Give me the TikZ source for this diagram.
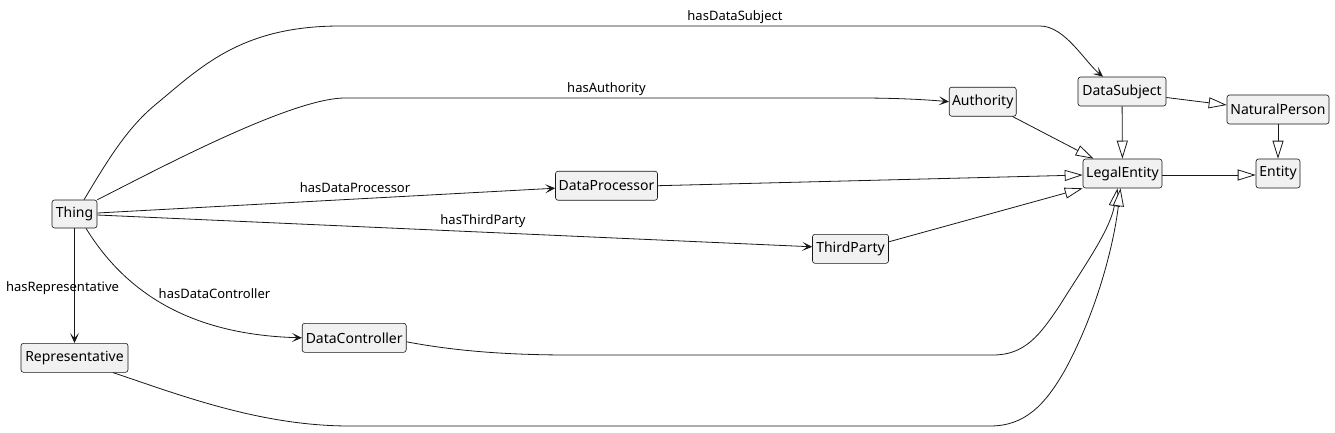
\documentclass[tikz,border=0pt]{standalone}
\usepackage{fontspec}
\setmainfont{Noto Sans}
\usetikzlibrary{arrows.meta}
\definecolor{boxfill}{HTML}{F1F1F1}
\definecolor{ink}{HTML}{181818}
\tikzset{
  cls/.style={draw=ink, fill=boxfill, rounded corners=2.5pt, line width=0.6pt,
    inner sep=0pt, minimum height=29pt, font=\fontsize{14}{16}\selectfont, text=black},
  prop/.style={draw=ink, line width=0.8pt, -{Stealth[length=10pt,width=9pt,inset=5pt]}},
  inh/.style={draw=ink, line width=0.8pt, -{Triangle[open,length=18pt,width=11pt,fill=white,line width=0.8pt]}},
  lbl/.style={font=\fontsize{13}{15}\selectfont, text=black, inner sep=0pt}
}
\begin{document}
\begin{tikzpicture}[x=1pt,y=-1pt]
\useasboundingbox (0,0) rectangle (1335,432);
\fill[white] (0,0) rectangle (1335,432);

% classes
\node[cls, minimum width=45pt, minimum height=28pt] (thing) at (74.5,214) {Thing};
\node[cls, minimum width=107pt] (rep) at (74.5,357.8) {Representative};
\node[cls, minimum width=104pt] (dctl) at (354.2,337.8) {DataController};
\node[cls, minimum width=102pt] (dproc) at (606.5,185.7) {DataProcessor};
\node[cls, minimum width=76pt] (tp) at (850.5,248.8) {ThirdParty};
\node[cls, minimum width=67pt] (auth) at (982.7,101.7) {Authority};
\node[cls, minimum width=88pt] (dsub) at (1122,91.5) {DataSubject};
\node[cls, minimum width=102pt] (nat) at (1278,109.5) {NaturalPerson};
\node[cls, minimum width=79pt] (legal) at (1122.5,173.5) {LegalEntity};
\node[cls, minimum width=44pt] (ent) at (1278,173.5) {Entity};

% property edges
\draw[prop] ([xshift=9.5pt]thing.north) .. controls (105,165) and (125,130) .. (155,105)
  .. controls (200,68) and (240,26) .. (340,26) -- (1040,26)
  .. controls (1065,26) and (1085,62) .. ([xshift=-19pt]dsub.north);
\draw[prop] (thing.north east) .. controls (145,176) and (289,98) .. (345,98) -- (860,98)
  .. controls (900,98) and (930,100) .. (auth.west);
\draw[prop] ([yshift=1pt]thing.east) -- ([yshift=-2.5pt]dproc.west);
\draw[prop] ([yshift=-1pt]thing.east) -- ([yshift=2pt]tp.west);
\draw[prop] (thing) -- (rep);
\draw[prop] ([xshift=11.5pt]thing.south) .. controls (130,300) and (200,335) .. (dctl.west);

% edge labels
\node[lbl] (lds) at (735,17) {hasDataSubject};
\node[lbl] (lau) at (606.5,89.3) {hasAuthority};
\node[lbl] (ldp) at (355,187.3) {hasDataProcessor};
\node[lbl] (ltp) at (483,221) {hasThirdParty};
\node[lbl] (lrp) at (62.5,288) {hasRepresentative};
\node[lbl] (ldc) at (214.5,294) {hasDataController};

% inheritance edges
\draw[inh] ([yshift=-6pt]dsub.east) -- ([yshift=4.5pt]nat.west);
\draw[inh] (dsub) -- (legal);
\draw[inh] (nat) -- (ent);
\draw[inh] ([yshift=-1.5pt]legal.east) -- ([yshift=-1.5pt]ent.west);
\draw[inh] ([xshift=-4pt]auth.south east) -- ([xshift=-29pt]legal.north);
\draw[inh] (dproc.east) -- ([yshift=-1.5pt]legal.west);
\draw[inh] ([yshift=7pt]tp.east) -- (legal.south west);
\draw[inh] ([yshift=-4pt]dctl.east) .. controls (450,350) and (500,355) .. (570,355) -- (993,355)
  .. controls (1025,355) and (1040,335) .. (1060,305)
  .. controls (1085,265) and (1110,230) .. ([xshift=-5pt]legal.south);
\draw[inh] ([xshift=38.5pt]rep.south) .. controls (180,395) and (260,426) .. (350,426) -- (990,426)
  .. controls (1025,426) and (1045,405) .. (1065,370)
  .. controls (1095,315) and (1113,250) .. ([xshift=-2pt]legal.south);
\end{tikzpicture}
\end{document}
